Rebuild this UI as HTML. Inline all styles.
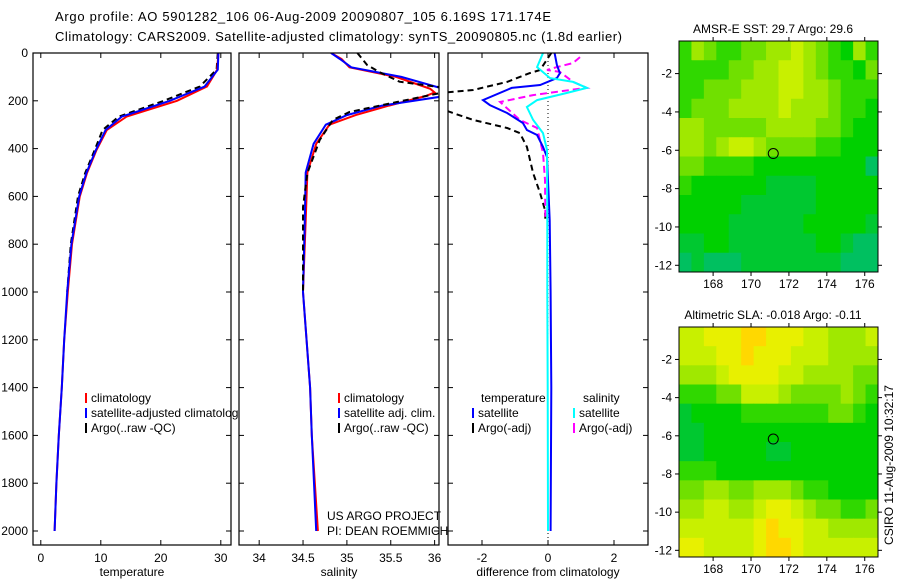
<!DOCTYPE html>
<html><head><meta charset="utf-8"><style>
body{margin:0;background:#fff;}
svg{display:block;font-family:"Liberation Sans",sans-serif;}
</style></head><body>
<svg id="c" width="900" height="580" viewBox="0 0 900 580" xmlns="http://www.w3.org/2000/svg">
<rect width="900" height="580" fill="#fff"/>
<text x="55" y="21" font-size="13" textLength="496">Argo profile: AO 5901282_106 06-Aug-2009 20090807_105 6.169S 171.174E</text>
<text x="55" y="41" font-size="13" textLength="567">Climatology: CARS2009. Satellite-adjusted climatology: synTS_20090805.nc (1.8d earlier)</text>
<g id="g"></g>
</svg>
<script>
// ---------- data ----------
const pTemp=[0,70,140,200,266,322,405,502,600,800,1000,1200,1400,1600,1800,2000];
const tempClim=[29.6,29.4,27.7,22.7,14.3,11,9.3,7.7,6.5,5.2,4.5,3.9,3.5,3.0,2.6,2.3];
const tempSat=[29.6,29.5,27.3,21.5,13.5,10.8,9.2,7.6,6.4,5.1,4.4,3.9,3.5,3.0,2.6,2.3];
const pTempArgo=[0,70,140,200,266,322,405,502,600,800,1000];
const tempArgo=[29.5,29.3,26.5,20.5,13,10.3,9,7.4,6.2,5.0,4.4];
const pSal=[0,25,60,100,150,165,180,220,260,300,380,500,700,1000,1400,1600,2000];
const salClim=[34.82,34.94,35.03,35.56,35.95,36.0,35.9,35.48,35.1,34.8,34.65,34.55,34.53,34.5,34.58,34.6,34.67];
const salSat=[34.82,34.92,35.05,35.62,36.1,36.2,36.12,35.4,35.0,34.76,34.62,34.53,34.52,34.5,34.58,34.6,34.65];
const pSalArgo=[0,50,80,120,150,165,205,247,280,364,502,644,1000];
const salArgo=[35.12,35.23,35.37,35.6,36.2,36.1,35.57,35.03,34.84,34.69,34.55,34.5,34.5];
const pDT=[0,50,84,105,134,146,197,218,251,293,322,343,393,435,700,1000,1400,2000];
const dTsat=[0.2,0.27,0.36,0.27,-0.24,-1.1,-1.97,-1.76,-1.24,-0.76,-0.64,-0.33,-0.15,-0.03,0.05,0.08,0.1,0.08];
const pDS=[0,59,105,121,146,167,197,226,280,335,406,700,1000,1400,2000];
const dSsat=[-0.15,-0.33,0.06,0.76,1.18,0.58,-0.33,-0.64,-0.45,-0.15,-0.03,-0.02,-0.02,-0.01,0];
const pDSA=[17,42,59,71,79,121,146,155,176,205,280,314,418,531,700];
const dSargo=[0.97,0.76,0.27,-0.03,0.36,0.76,1.18,0.67,-0.45,-1.45,-0.85,-0.33,-0.15,-0.09,-0.08];
const pDTA=[0,71,84,121,155,170,200,247,280,314,335,393,502,586,657,700];
const dTargo=[0.1,-0.24,-0.55,-1.24,-2.27,-3.5,-3.8,-2.97,-2.27,-1.24,-0.85,-0.64,-0.45,-0.24,-0.09,-0.08];
const pTicks=[0,200,400,600,800,1000,1200,1400,1600,1800,2000];
const tTicks=[0,10,20,30];
const sTicks=[34,34.5,35,35.5,36];
const dTicks=[-2,0,2];
const lonTicks=[168,170,172,174,176];
const latTicks=[-2,-4,-6,-8,-10,-12];
const sstGrid=[
[4,6,5,4,4,5,5,6,6,7,6,5,4,3,6,4],
[4,4,4,4,5,5,6,6,7,7,6,5,4,4,3,5],
[4,4,5,5,5,6,6,6,7,7,6,6,5,4,4,4],
[4,5,5,5,6,6,6,6,7,6,6,6,5,4,4,3],
[6,6,5,5,5,5,5,6,6,6,6,5,5,4,3,3],
[6,6,5,6,7,7,6,5,5,5,5,4,4,3,3,3],
[5,5,4,4,4,4,3,3,3,3,3,3,3,3,3,1],
[4,3,3,3,3,3,3,2,2,2,2,3,3,3,3,3],
[3,3,3,3,3,2,2,2,2,2,2,3,3,3,3,3],
[3,3,3,3,2,2,2,2,2,2,3,3,3,3,3,2],
[2,2,3,3,2,2,2,2,2,2,2,3,3,2,1,1],
[1,2,1,1,1,2,2,2,2,2,2,2,2,1,1,1]];
const slaGrid=[
[7,7,8,8,8,9,9,8,8,8,7,7,6,6,6,7],
[7,7,7,8,8,9,8,8,8,7,7,7,6,6,6,6],
[6,6,6,7,8,8,8,8,7,7,6,6,6,6,5,5],
[4,4,4,5,5,7,7,7,6,5,5,5,5,6,5,4],
[2,3,3,3,3,4,4,4,4,4,4,4,5,5,4,3],
[2,2,3,3,3,3,3,3,3,3,3,3,3,3,3,3],
[2,2,3,3,3,3,3,2,2,3,3,3,3,3,3,3],
[4,4,4,3,3,3,3,3,3,3,3,3,3,3,3,3],
[5,5,6,6,5,5,6,6,6,5,4,4,3,3,3,3],
[6,6,7,7,6,6,7,8,8,7,6,5,5,4,4,5],
[7,7,7,7,7,7,8,9,8,8,7,7,6,6,6,6],
[8,8,7,7,7,7,8,9,9,8,7,7,7,7,7,7]];
const palette=["#00b87a","#00c060","#00c830","#00d000","#30d800","#70e000","#a0e800","#c8f000","#e8f000","#ffd800"];
// ---------- helpers ----------
const NS="http://www.w3.org/2000/svg";
const G=document.getElementById('g');
function el(t,a,p){const e=document.createElementNS(NS,t);for(const k in a)e.setAttribute(k,a[k]);(p||G).appendChild(e);return e;}
function txt(x,y,s,a,p){const e=el('text',Object.assign({x:x,y:y,'font-size':12},a||{}),p);e.textContent=s;return e;}
const PT=53,PB=545,P0=53,P2000=531;
const yP=p=>P0+(P2000-P0)*p/2000;
const panels=[
 {x0:33,x1:231,vmin:-1.3,vmax:31.7,ticks:tTicks,lab:'temperature',name:'temperature'},
 {x0:239,x1:439,vmin:33.77,vmax:36.05,ticks:sTicks,lab:'salinity',name:'salinity'},
 {x0:448,x1:648,vmin:-3.03,vmax:3.03,ticks:dTicks,lab:'difference from climatology',name:'difference'}];
panels.forEach((P,i)=>{P.xs=v=>P.x0+(P.x1-P.x0)*(v-P.vmin)/(P.vmax-P.vmin);});
function line(P,ps,vs,color,dash,name,w){
  const d=ps.map((p,i)=>(i?'L':'M')+P.xs(vs[i]).toFixed(1)+','+yP(p).toFixed(1)).join('');
  const e=el('path',{d:d,fill:'none',stroke:color,'stroke-width':w||2,'clip-path':'url(#clip'+P.idx+')'},P.g);
  if(dash)e.setAttribute('stroke-dasharray',dash);
  
  
}
const defs=el('defs',{});
panels.forEach((P,i)=>{
  P.idx=i;
  const cp=el('clipPath',{id:'clip'+i},defs);el('rect',{x:P.x0,y:PT,width:P.x1-P.x0,height:PB-PT},cp);
  P.g=el('g',{});
  
  
  el('rect',{x:P.x0,y:PT,width:P.x1-P.x0,height:PB-PT,fill:'#fff'},P.g);
});
// legends of panel 1 drawn before panel 2 background (clipped by it)
function legend(P,x,y,items){
  items.forEach((it,k)=>{
    const yy=y+k*15;
    const m=el('line',{x1:x,y1:yy-9,x2:x,y2:yy+1,stroke:it[1],'stroke-width':2},P.g);
    
    
    const t=txt(x+5,yy,it[0],{},P.g);
    
    
  });
}
// panel 1
{const P=panels[0];
 line(P,pTempArgo,tempArgo,'#000','6,4','argo-temperature-line');
 line(P,pTemp,tempClim,'#f00',null,'climatology-temperature-line');
 line(P,pTemp,tempSat,'#00f',null,'satellite-temperature-line');
 legend(P,86,402,[['climatology','#f00'],['satellite-adjusted climatology','#00f'],['Argo(..raw -QC)','#000']]);}
// bring panel 2+ above panel 1 legend
panels.slice(1).forEach(P=>G.appendChild(P.g));
{const P=panels[1];
 line(P,pSal,salClim,'#f00',null,'climatology-salinity-line');
 line(P,pSal,salSat,'#00f',null,'satellite-salinity-line');
 line(P,pSalArgo,salArgo,'#000','6,4','argo-salinity-line');
 legend(P,339,402,[['climatology','#f00'],['satellite adj. clim.','#00f'],['Argo(..raw -QC)','#000']]);
 txt(327,520,'US ARGO PROJECT',{},P.g);
 txt(327,535,'PI: DEAN ROEMMICH',{},P.g);}
{const P=panels[2];
 const z=el('line',{x1:P.xs(0),y1:PT,x2:P.xs(0),y2:PB,stroke:'#000','stroke-width':1,'stroke-dasharray':'1,3'},P.g);
 
 line(P,pDTA,dTargo,'#000','6,4','argo-temperature-diff-line');
 line(P,pDSA,dSargo,'#f0f','7,4','argo-salinity-diff-line');
 line(P,pDT,dTsat,'#00f',null,'satellite-temperature-diff-line');
 line(P,pDS,dSsat,'#0ff',null,'satellite-salinity-diff-line');
 txt(481,402,'temperature',{},P.g);
 txt(583,402,'salinity',{},P.g);
 legend(P,473,417,[['satellite','#00f'],['Argo(-adj)','#000']]);
 legend(P,574,417,[['satellite','#0ff'],['Argo(-adj)','#f0f']]);}
// axes frames & ticks
panels.forEach((P,i)=>{
  const f=el('rect',{x:P.x0,y:PT,width:P.x1-P.x0,height:PB-PT,fill:'none',stroke:'#000','stroke-width':1.2},P.g);
  
  
  P.ticks.forEach(v=>{const x=P.xs(v);
    el('line',{x1:x,y1:PB,x2:x,y2:PB-5,stroke:'#000'},P.g);el('line',{x1:x,y1:PT,x2:x,y2:PT+5,stroke:'#000'},P.g);
    const t=txt(x,562,String(v),{'text-anchor':'middle'},P.g);
    
    });
  pTicks.forEach(p=>{const y=yP(p);
    el('line',{x1:P.x0,y1:y,x2:P.x0+5,y2:y,stroke:'#000'},P.g);el('line',{x1:P.x1,y1:y,x2:P.x1-5,y2:y,stroke:'#000'},P.g);
    if(i===0){const t=txt(28,y+4,String(p),{'text-anchor':'end'},P.g);
      
      }});
  const at=txt((P.x0+P.x1)/2,576,P.lab,{'text-anchor':'middle'},P.g);
  
  
});
// maps
function map(grid,top,bot,title,name){
  const x0=679,x1=878,lonA=166.2,lonB=176.7,latA=-0.3,latB=-12.35;
  const y2=lat=>top+(bot-top)*(lat-latA)/(latB-latA);
  const xs=lon=>x0+(x1-x0)*(lon-lonA)/(lonB-lonA);
  const g=el('g',{});
  
  
  const rows=grid.length,cols=grid[0].length;
  grid.forEach((r,ri)=>r.forEach((v,ci)=>{
    const lo=lonA+(lonB-lonA)*ci/cols,la=latA+(latB-latA)*ri/rows;
    const c=el('rect',{x:xs(lo),y:y2(la),width:(x1-x0)/cols+0.5,height:(bot-top)/rows+0.5,fill:palette[v]},g);
    
    
  }));
  el('rect',{x:x0,y:top,width:x1-x0,height:bot-top,fill:'none',stroke:'#000'},g);
  const ci=el('circle',{cx:xs(171.174),cy:y2(-6.169),r:5,fill:'none',stroke:'#000','stroke-width':1},g);
  
  
  lonTicks.forEach(v=>{const x=xs(v);el('line',{x1:x,y1:bot,x2:x,y2:bot+4,stroke:'#000'},g);el('line',{x1:x,y1:top,x2:x,y2:top-4,stroke:'#000'},g);
    txt(x,bot+16,String(v),{'text-anchor':'middle'},g);});
  latTicks.forEach(v=>{const y=y2(v);el('line',{x1:x0,y1:y,x2:x0-4,y2:y,stroke:'#000'},g);el('line',{x1:x1,y1:y,x2:x1+4,y2:y,stroke:'#000'},g);
    txt(672,y+4,String(v),{'text-anchor':'end'},g);});
  const t=txt(773,top-8,title,{'text-anchor':'middle'},g);
  
  
}
map(sstGrid,41,272,'AMSR-E SST: 29.7 Argo: 29.6','sst-map');
map(slaGrid,327,557,'Altimetric SLA: -0.018 Argo: -0.11','sla-map');
const cs=txt(0,0,'CSIRO 11-Aug-2009 10:32:17',{'text-anchor':'middle',transform:'translate(893,465) rotate(-90)'});


</script>
</body></html>
